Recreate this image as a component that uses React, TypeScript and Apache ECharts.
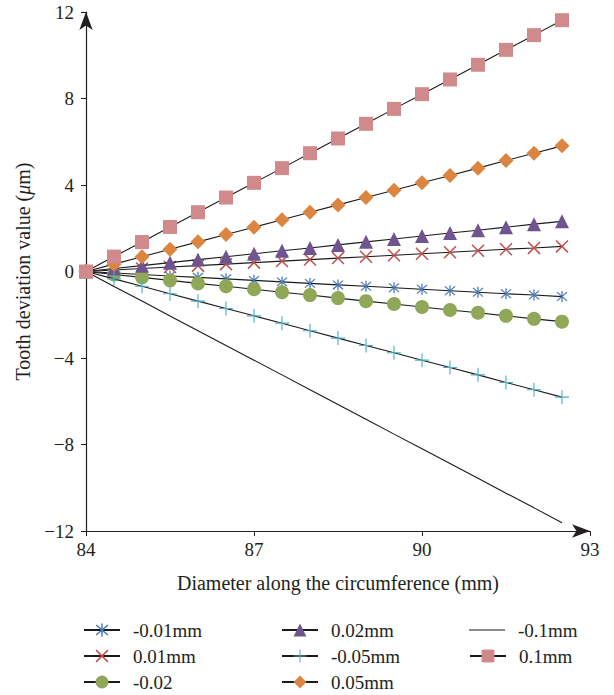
import React, { useEffect, useRef } from "react";
import * as echarts from "echarts";

const xValues = [84, 84.5, 85, 85.5, 86, 86.5, 87, 87.5, 88, 88.5, 89, 89.5, 90, 90.5, 91, 91.5, 92, 92.5];

const seriesNames = ["-0.01mm", "0.01mm", "-0.02", "0.02mm", "-0.05mm", "0.05mm", "-0.1mm", "0.1mm"];

const negP01 = [0, -0.07, -0.14, -0.21, -0.27, -0.34, -0.41, -0.48, -0.55, -0.62, -0.68, -0.75, -0.82, -0.89, -0.96, -1.03, -1.09, -1.16];
const posP01 = [0, 0.07, 0.14, 0.21, 0.27, 0.34, 0.41, 0.48, 0.55, 0.62, 0.68, 0.75, 0.82, 0.89, 0.96, 1.03, 1.09, 1.16];
const negP02 = [0, -0.14, -0.27, -0.41, -0.55, -0.68, -0.82, -0.96, -1.09, -1.23, -1.37, -1.5, -1.64, -1.78, -1.91, -2.05, -2.19, -2.32];
const posP02 = [0, 0.14, 0.27, 0.41, 0.55, 0.68, 0.82, 0.96, 1.09, 1.23, 1.37, 1.5, 1.64, 1.78, 1.91, 2.05, 2.19, 2.32];
const negP05 = [0, -0.34, -0.68, -1.03, -1.37, -1.71, -2.05, -2.39, -2.74, -3.08, -3.42, -3.76, -4.1, -4.44, -4.78, -5.13, -5.47, -5.81];
const posP05 = [0, 0.34, 0.68, 1.03, 1.37, 1.71, 2.05, 2.39, 2.74, 3.08, 3.42, 3.76, 4.1, 4.44, 4.78, 5.13, 5.47, 5.81];
const negP10 = [0, -0.69, -1.36, -2.06, -2.74, -3.42, -4.1, -4.78, -5.47, -6.15, -6.83, -7.52, -8.2, -8.88, -9.56, -10.25, -10.93, -11.62];
const posP10 = [0, 0.69, 1.36, 2.06, 2.74, 3.42, 4.1, 4.78, 5.47, 6.15, 6.83, 7.52, 8.2, 8.88, 9.56, 10.25, 10.93, 11.62];

const xTicks = { min: 84, max: 93, interval: 3 };
const yTicks = { min: -12, max: 12, interval: 4 };

const ASTERISK =
  "path://M9,0L11,0L11,20L9,20Z M1.4,2.8L2.8,1.4L18.6,17.2L17.2,18.6Z M17.2,1.4L18.6,2.8L2.8,18.6L1.4,17.2Z";
const CROSS =
  "path://M1.4,2.8L2.8,1.4L18.6,17.2L17.2,18.6Z M17.2,1.4L18.6,2.8L2.8,18.6L1.4,17.2Z";
const PLUS = "path://M9.2,0L10.8,0L10.8,20L9.2,20Z M0,9.2L20,9.2L20,10.8L0,10.8Z";
// plain line icon (a near-invisible sliver keeps the full box height so the line stays thin)
const LINE_ICON = "path://M0,0L0.01,0L0.01,16L0,16Z M0,7.5L36,7.5L36,8.6L0,8.6Z";

const FONT = "Liberation Serif";
const TEXT_COLOR = "#231f20";

// legend grid: column left positions and row tops
const legendCols = [83, 281, 469];
const legendRows = [620, 646, 672];

export default function App() {
  const ref = useRef<HTMLDivElement>(null);
  useEffect(() => {
    if (!ref.current) return;
    const chart = echarts.init(ref.current, undefined, { renderer: "svg" });

    const values = [negP01, posP01, negP02, posP02, negP05, posP05, negP10, posP10];
    const styles = [
      { symbol: ASTERISK, size: 11, color: "#4a7ab8" },
      { symbol: CROSS, size: 13, color: "#c0504d" },
      { symbol: "circle", size: 14, color: "#8fa757" },
      { symbol: "triangle", size: 14, color: "#6f5490" },
      { symbol: PLUS, size: 14, color: "#4fadc3" },
      { symbol: "diamond", size: 15, color: "#db8540" },
      { symbol: "none", size: 0, color: "#1a1a1a" },
      { symbol: "rect", size: 14, color: "#d08a8c" },
    ];

    const series = seriesNames.map((name, i) => ({
      name,
      type: "line",
      data: xValues.map((x, j) => [x, values[i][j]]),
      symbol: styles[i].symbol,
      symbolSize: styles[i].size,
      showSymbol: styles[i].symbol !== "none",
      lineStyle: { color: "#1a1a1a", width: 1.1 },
      itemStyle: { color: styles[i].color, borderWidth: 0 },
      emphasis: { disabled: true },
      z: 2 + i,
    }));

    const legends = seriesNames.map((name, i) => ({
      orient: "horizontal",
      left: legendCols[Math.floor(i / 3)],
      top: legendRows[i % 3],
      padding: 0,
      itemWidth: 36,
      itemHeight: 16,
      textStyle: {
        fontFamily: FONT,
        fontSize: 19,
        lineHeight: 20,
        color: TEXT_COLOR,
        padding: [0, 0, 0, 8],
      },
      data: [styles[i].symbol === "none" ? { name, icon: LINE_ICON } : name],
    }));

    chart.setOption({
      animation: false,
      grid: { left: 86, right: 24, top: 12, bottom: 164 },
      xAxis: {
        type: "value",
        min: xTicks.min,
        max: xTicks.max,
        interval: xTicks.interval,
        name: "Diameter along the circumference (mm)",
        nameLocation: "middle",
        nameGap: 42,
        nameTextStyle: { fontFamily: FONT, fontSize: 20, color: TEXT_COLOR },
        axisLine: {
          onZero: false,
          lineStyle: { color: "#231f20", width: 1.2 },
          symbol: ["none", "arrow"],
          symbolSize: [10, 18],
        },
        axisTick: { show: true, inside: false, length: 5, lineStyle: { color: "#231f20" } },
        axisLabel: { fontFamily: FONT, fontSize: 19, color: TEXT_COLOR, margin: 9 },
        splitLine: { show: false },
      },
      yAxis: {
        type: "value",
        min: yTicks.min,
        max: yTicks.max,
        interval: yTicks.interval,
        name: "Tooth deviation value ({i|\u03bc}m)",
        nameLocation: "middle",
        nameGap: 52,
        nameTextStyle: {
          fontFamily: FONT,
          fontSize: 20,
          color: TEXT_COLOR,
          rich: { i: { fontFamily: FONT, fontSize: 20, fontStyle: "italic", color: TEXT_COLOR } },
        },
        axisLine: {
          onZero: false,
          lineStyle: { color: "#231f20", width: 1.2 },
          symbol: ["none", "arrow"],
          symbolSize: [10, 18],
        },
        axisTick: { show: true, inside: false, length: 5, lineStyle: { color: "#231f20" } },
        axisLabel: {
          fontFamily: FONT,
          fontSize: 19,
          color: TEXT_COLOR,
          margin: 12,
          formatter: (v: number) => (v < 0 ? "\u2212" + Math.abs(v) : String(v)),
        },
        splitLine: { show: false },
      },
      legend: legends,
      series,
    });
    return () => chart.dispose();
  }, []);

  return (
    <div
      ref={ref}
      style={{ position: "fixed", left: 0, top: 0, width: 614, height: 695, background: "#fff" }}
    />
  );
}
